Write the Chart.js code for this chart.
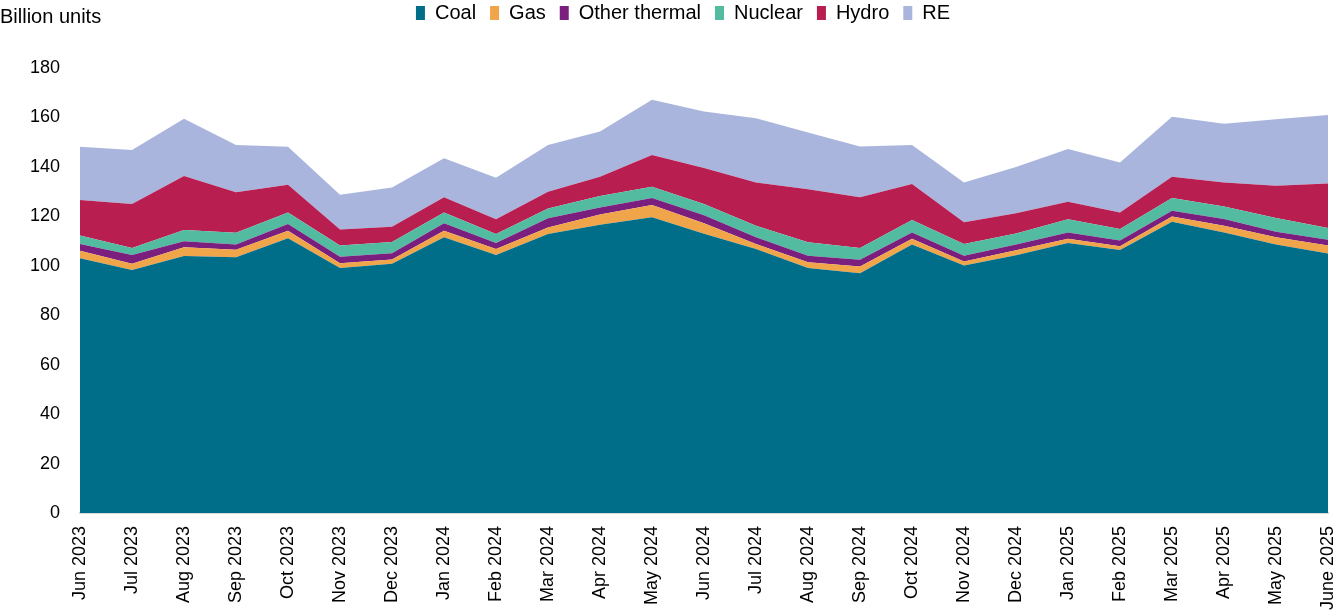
<!DOCTYPE html>
<html>
<head>
<meta charset="utf-8">
<script src="https://cdn.jsdelivr.net/npm/chart.js@4"></script>
<style>
    html, body { margin: 0; padding: 0; background: #fff; }
    #wrap { position: relative; width: 1334px; height: 615px; }
    #unit { position: absolute; left: 0; top: 5px; font: 20px "Liberation Sans", Arial, sans-serif; color: #000; }
</style>
</head>
<body>
<div id="wrap">
    <div id="unit">Billion units</div>
    <canvas id="genChart" width="1334" height="615"></canvas>
</div>
<script>
// Monthly generation, billion units
const months = ['Jun 2023', 'Jul 2023', 'Aug 2023', 'Sep 2023', 'Oct 2023', 'Nov 2023', 'Dec 2023',
    'Jan 2024', 'Feb 2024', 'Mar 2024', 'Apr 2024', 'May 2024', 'Jun 2024', 'Jul 2024', 'Aug 2024',
    'Sep 2024', 'Oct 2024', 'Nov 2024', 'Dec 2024', 'Jan 2025', 'Feb 2025', 'Mar 2025', 'Apr 2025',
    'May 2025', 'June 2025'];

const coal = [103.0, 98.3, 104.0, 103.4, 111.1, 99.1, 100.8, 111.5, 104.4, 112.9, 116.6, 119.6, 113.0,
    106.8, 99.1, 97.0, 108.6, 100.1, 104.3, 109.2, 106.4, 117.8, 113.5, 108.6, 105.0];
const gas = [3.1, 2.5, 3.5, 3.1, 3.1, 1.9, 1.7, 2.7, 2.4, 2.6, 4.1, 5.0, 4.2,
    2.0, 2.3, 2.7, 2.3, 1.6, 2.0, 1.7, 1.5, 2.1, 2.7, 2.9, 3.2];
const otherThermal = [2.7, 3.6, 2.4, 2.1, 2.7, 2.7, 2.6, 3.0, 2.4, 3.7, 2.9, 2.8, 3.2,
    2.7, 2.7, 2.7, 2.6, 2.4, 2.3, 2.6, 2.3, 2.4, 2.7, 2.3, 2.3];
const nuclear = [3.4, 2.8, 4.6, 4.8, 4.7, 4.5, 4.5, 4.4, 3.7, 4.0, 4.6, 4.6, 4.6,
    4.7, 5.4, 4.8, 5.0, 4.7, 4.5, 5.3, 4.7, 5.1, 5.1, 5.5, 4.8];
const hydro = [14.4, 17.8, 21.8, 16.3, 11.2, 6.5, 6.2, 6.1, 5.9, 6.7, 7.8, 12.8, 14.6,
    17.5, 21.5, 20.5, 14.6, 8.8, 8.1, 7.1, 6.7, 8.6, 9.7, 13.1, 18.0];
const re = [21.5, 21.8, 23.2, 19.2, 15.3, 14.0, 15.9, 15.8, 16.8, 19.0, 18.3, 22.4, 22.8,
    26.0, 22.9, 20.5, 15.8, 16.1, 18.8, 21.3, 20.2, 24.3, 23.8, 26.9, 27.7];

const seriesNames = ['Coal', 'Gas', 'Other thermal', 'Nuclear', 'Hydro', 'RE'];
const seriesData = [coal, gas, otherThermal, nuclear, hydro, re];
const seriesColors = ['#006d89', '#f0a54a', '#7b1f7e', '#52bba0', '#b81f50', '#a9b5dd'];

const tickFont = { family: '"Liberation Sans", Arial, sans-serif', size: 18 };
const legendFont = { family: '"Liberation Sans", Arial, sans-serif', size: 20 };

const datasets = seriesNames.map((name, i) => ({
    label: name,
    data: seriesData[i],
    backgroundColor: seriesColors[i],
    borderColor: seriesColors[i],
    borderWidth: 0,
    pointRadius: 0,
    tension: 0,
    fill: i === 0 ? 'origin' : '-1'
}));

// push the plot area down below the legend row, nudge legend a bit right
const legendGap = {
    id: 'legendGap',
    beforeInit(chart) {
        const fit = chart.legend.fit;
        chart.legend.fit = function () {
            fit.bind(chart.legend)();
            this.height += 35;
        };
    },
    afterLayout(chart) {
        chart.legend.left += 38;
    }
};

new Chart(document.getElementById('genChart').getContext('2d'), {
    type: 'line',
    data: { labels: months, datasets: datasets },
    plugins: [legendGap],
    options: {
        responsive: false,
        animation: false,
        layout: { padding: { left: 0, right: 6, top: -11, bottom: 0 } },
        plugins: {
            legend: {
                position: 'top',
                labels: {
                    font: legendFont,
                    color: '#000',
                    boxWidth: 9,
                    boxHeight: 14,
                    padding: 14
                }
            },
            tooltip: { enabled: false }
        },
        scales: {
            x: {
                offset: false,
                grid: { display: false, drawTicks: false },
                border: { display: true, color: '#d9d9d9', width: 2 },
                ticks: { font: tickFont, color: '#000', maxRotation: 90, minRotation: 90, autoSkip: false, padding: 13 },
                afterFit: s => { s.height = 102; s.paddingLeft = 0; s.paddingRight = 0; }
            },
            y: {
                stacked: true,
                min: 0,
                max: 180,
                grid: { display: false, drawTicks: false },
                border: { display: false },
                ticks: { stepSize: 20, font: tickFont, color: '#000', padding: 20 },
                afterFit: s => { s.width = 80; }
            }
        }
    }
});
</script>
</body>
</html>
